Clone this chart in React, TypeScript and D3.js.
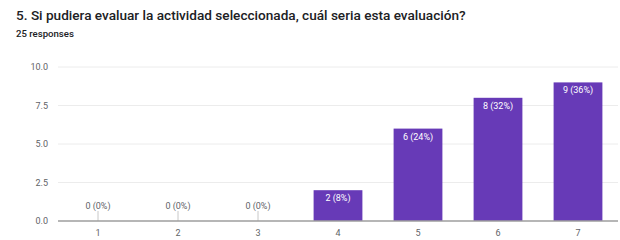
import React from "react";
import * as d3 from "d3";

const categories = ["1", "2", "3", "4", "5", "6", "7"];
const counts = [0, 0, 0, 2, 6, 8, 9];
const percents = ["0%", "0%", "0%", "8%", "24%", "32%", "36%"];
const yTicks = [0, 2.5, 5, 7.5, 10];
const title = "5. Si pudiera evaluar la actividad seleccionada, cuál seria esta evaluación?";
const subtitle = "25 responses";

export default function App() {
  const W = 620, H = 240;
  const left = 58, right = 618, top = 67, bottom = 221;
  const x = d3.scaleBand().domain(categories).range([left, right]).paddingInner(0.39).paddingOuter(0.195);
  const y = d3.scaleLinear().domain([0, 10]).range([bottom, top]);
  const font = "Roboto, Arial, sans-serif";
  return (
    <svg width={W} height={H} style={{ position: "absolute", left: 0, top: 0, background: "#fff" }} fontFamily={font}>
      <text x={16} y={20} fontSize={13.6} fill="#202124" fontWeight={500}>{title}</text>
      <text x={16} y={37} fontSize={9.6} fill="#202124" fontWeight={500}>{subtitle}</text>
      {yTicks.map((t) => (
        <g key={t}>
          {t !== 0 && <line x1={left} x2={right} y1={y(t)} y2={y(t)} stroke="#ececec" strokeWidth={1} />}
          <text x={48} y={y(t) + 3} textAnchor="end" fontSize={9} fill="#5f6368">{t.toFixed(1)}</text>
        </g>
      ))}
      {categories.map((c, i) => {
        const bx = x(c)!;
        const bw = x.bandwidth();
        const cx = bx + bw / 2;
        const v = counts[i];
        const label = `${v} (${percents[i]})`;
        return (
          <g key={c}>
            {v > 0 ? (
              <>
                <rect x={bx} y={y(v)} width={bw} height={bottom - y(v)} fill="#673ab7" />
                <text x={cx} y={y(v) + 11} textAnchor="middle" fontSize={9} fill="#fff">{label}</text>
              </>
            ) : (
              <>
                <line x1={cx} x2={cx} y1={bottom} y2={bottom - 10} stroke="#c8c8c8" strokeWidth={1} />
                <text x={cx} y={bottom - 12} textAnchor="middle" fontSize={9} fill="#5f6368">{label}</text>
              </>
            )}
            <text x={cx} y={236} textAnchor="middle" fontSize={9} fill="#5f6368">{c}</text>
          </g>
        );
      })}
      <line x1={left} x2={right} y1={bottom} y2={bottom} stroke="#9e9e9e" strokeWidth={1.5} />
    </svg>
  );
}
